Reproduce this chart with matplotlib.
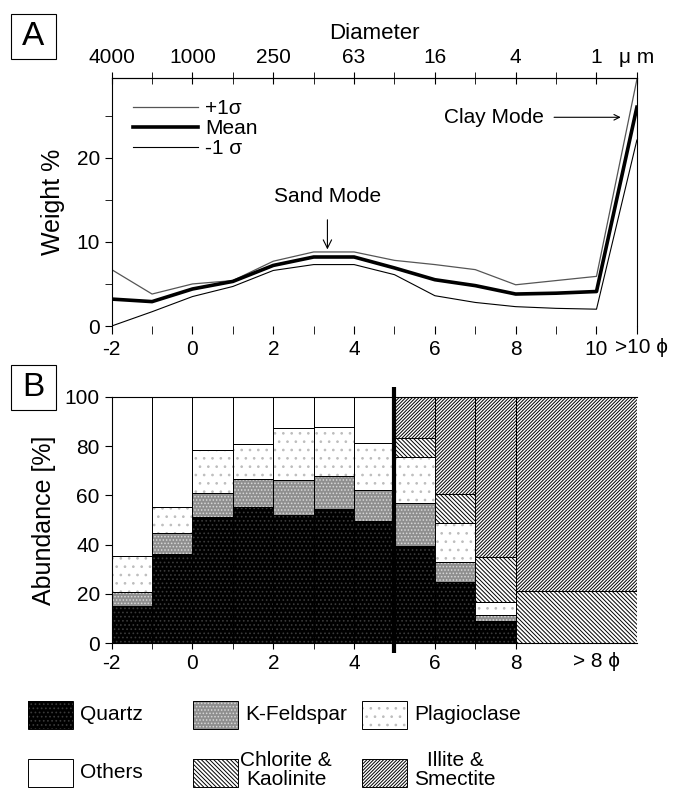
import matplotlib
matplotlib.use("Agg")
import matplotlib.pyplot as plt
from matplotlib.patches import Rectangle
import matplotlib.transforms as mtrans
import numpy as np

plt.rcParams['font.family'] = ['Liberation Sans', 'DejaVu Sans']
plt.rcParams['hatch.linewidth'] = 0.7

# ---- panel A data (grain size distribution, weight %) ----
phi = [-2, -1, 0, 1, 2, 3, 4, 5, 6, 7, 8, 9, 10, 11]
mean = [3.2, 2.9, 4.4, 5.3, 7.2, 8.2, 8.2, 6.9, 5.5, 4.8, 3.8, 3.9, 4.1, 26.0]
plus1 = [6.7, 3.8, 5.0, 5.4, 7.7, 8.8, 8.8, 7.8, 7.3, 6.7, 4.9, 5.4, 5.9, 29.3]
minus1 = [0.0, 1.7, 3.5, 4.7, 6.6, 7.3, 7.3, 6.1, 3.6, 2.8, 2.3, 2.1, 2.0, 22.1]
phi_labels = ['-2', '0', '2', '4', '6', '8', '10', '']
phi_label_pos = [-2, 0, 2, 4, 6, 8, 10, 11]
diam_labels = ['4000', '1000', '250', '63', '16', '4', '1', '\u03bc m']

# ---- panel B data (mineral abundance, %) ----
bin_left = [-2, -1, 0, 1, 2, 3, 4, 5, 6, 7, 8]
bin_width = [1, 1, 1, 1, 1, 1, 1, 1, 1, 1, 3]
quartz = [15.2, 36.3, 51.2, 55.4, 52.2, 54.4, 49.4, 39.3, 25.0, 9.1, 0]
kfeldspar = [5.4, 8.6, 9.7, 11.2, 14.2, 13.6, 12.9, 17.4, 7.9, 2.2, 0]
plagioclase = [14.6, 10.5, 17.6, 14.4, 20.7, 19.7, 18.9, 18.7, 15.8, 5.4, 0]
chlorite = [0, 0, 0, 0, 0, 0, 0, 8.0, 11.7, 18.1, 21.3]
illite = [0, 0, 0, 0, 0, 0, 0, 16.6, 39.6, 65.2, 78.7]
others = [64.8, 44.6, 21.5, 19.0, 12.9, 12.3, 18.8, 0, 0, 0, 0]

# name -> face, hatch colour, hatch
styles = {
    'Quartz': ('black', '#3a3a3a', '....'),
    'K-Feldspar': ('#8f8f8f', '#d8d8d8', '.....'),
    'Plagioclase': ('white', '#bdbdbd', '..'),
    'Others': ('white', 'white', ''),
    'Chlorite &\nKaolinite': ('white', 'black', '\\' * 8),
    'Illite &\nSmectite': ('white', 'black', '/' * 10),
}

fig = plt.figure(figsize=(6.83, 7.94), dpi=100)

# ================= panel A =================
axA = fig.add_axes([0.1635, 0.5894, 0.769, 0.3127])
axA.plot(phi, plus1, color='#555555', lw=0.9, label='+1\u03c3')
axA.plot(phi, mean, color='black', lw=2.6, label='Mean')
axA.plot(phi, minus1, color='black', lw=0.8, label='-1 \u03c3')
axA.set_xlim(-2, 11)
axA.set_ylim(0, 29.5)
axA.spines['bottom'].set_visible(False)
axA.set_xticks(phi_label_pos)
axA.set_xticklabels(phi_labels, fontsize=15)
axA.set_xticks([-1, 1, 3, 5, 7, 9], minor=True)
axA.tick_params(axis='x', which='both', direction='out', length=6, pad=4)
trA = mtrans.blended_transform_factory(axA.transData, axA.transAxes)
axA.text(10.47, -0.085, '>10 \u03d5', transform=trA, ha='left', va='center', fontsize=15)
axA.set_yticks([0, 10, 20])
axA.set_yticks([5, 15, 25], minor=True)
axA.tick_params(axis='y', which='both', direction='out', length=5, labelsize=15)
axA.set_ylabel('Weight %', fontsize=18, labelpad=8)

top = axA.secondary_xaxis('top')
top.set_xticks(phi_label_pos)
top.set_xticklabels(diam_labels, fontsize=15)
top.set_xticks([-1, 1, 3, 5, 7, 9], minor=True)
top.tick_params(axis='x', which='both', direction='inout', length=8, pad=4)
top.set_xlabel('Diameter', fontsize=16, labelpad=6)

axA.legend(loc='upper left', bbox_to_anchor=(0.025, 0.948), frameon=False,
           fontsize=15, handlelength=3.1, labelspacing=0.06, handletextpad=0.35,
           borderaxespad=0)
axA.annotate('Sand Mode', xy=(3.34, 9.1), xytext=(3.34, 15.4),
             ha='center', va='center', fontsize=15,
             arrowprops=dict(arrowstyle='->', color='black', lw=0.8,
                             shrinkA=8, shrinkB=0))
axA.text(7.45, 24.8, 'Clay Mode', ha='center', va='center', fontsize=15)
axA.annotate('', xy=(10.6, 24.8), xytext=(8.95, 24.8),
             arrowprops=dict(arrowstyle='->', color='black', lw=0.8,
                             shrinkA=0, shrinkB=0))

# ================= panel B =================
axB = fig.add_axes([0.1635, 0.1898, 0.769, 0.3106])
layers = [('Quartz', quartz), ('K-Feldspar', kfeldspar), ('Plagioclase', plagioclase),
          ('Chlorite &\nKaolinite', chlorite), ('Illite &\nSmectite', illite),
          ('Others', others)]
bottom = np.zeros(len(bin_left))
for name, vals in layers:
    face, hcol, hatch = styles[name]
    vals = np.array(vals, dtype=float)
    axB.bar(bin_left, vals, width=bin_width, bottom=bottom, align='edge',
            color=face, edgecolor=hcol, hatch=hatch, linewidth=0)
    axB.bar(bin_left, vals, width=bin_width, bottom=bottom, align='edge',
            fill=False, edgecolor='black', linewidth=0.7)
    bottom = bottom + vals

axB.set_xlim(-2, 11)
axB.set_ylim(0, 100)
axB.spines['right'].set_visible(False)
axB.set_yticks([0, 20, 40, 60, 80, 100])
axB.tick_params(axis='y', direction='out', length=5, labelsize=15)
axB.set_xticks([-2, 0, 2, 4, 6, 8])
axB.set_xticklabels(['-2', '0', '2', '4', '6', '8'], fontsize=15)
axB.set_xticks([-1, 1, 3, 5, 7], minor=True)
axB.tick_params(axis='x', which='both', direction='out', length=4, pad=4)
trB = mtrans.blended_transform_factory(axB.transData, axB.transAxes)
axB.text(10.0, -0.075, '> 8 \u03d5', transform=trB, ha='center', va='center', fontsize=15)
axB.set_ylabel('Abundance [%]', fontsize=18, labelpad=6)
axB.plot([5, 5], [-4, 104], color='black', lw=3, clip_on=False, solid_capstyle='butt')

# panel letters
for letter, y0 in [('A', 794 - 59), ('B', 794 - 410)]:
    fig.patches.append(Rectangle((11 / 683, y0 / 794), 45 / 683, 45 / 794,
                                 transform=fig.transFigure, fill=False,
                                 edgecolor='black', lw=0.8))
    fig.text(33.5 / 683, (y0 + 22.5) / 794, letter, fontsize=24,
             ha='center', va='center')

# legend of minerals
leg_items = [('Quartz', 28, 715), ('K-Feldspar', 193, 715), ('Plagioclase', 362, 715),
             ('Others', 28, 773), ('Chlorite &\nKaolinite', 193, 773),
             ('Illite &\nSmectite', 362, 773)]
for name, px, py in leg_items:
    face, hcol, hatch = styles[name]
    fig.patches.append(Rectangle((px / 683, (794 - py - 14) / 794), 45 / 683, 28 / 794,
                                 transform=fig.transFigure, facecolor=face,
                                 edgecolor=hcol, hatch=hatch, lw=0))
    fig.patches.append(Rectangle((px / 683, (794 - py - 14) / 794), 45 / 683, 28 / 794,
                                 transform=fig.transFigure, fill=False,
                                 edgecolor='black', lw=0.7))
    if '\n' in name:
        fig.text((px + 93) / 683, (794 - py + 3) / 794, name, fontsize=15,
                 ha='center', va='center', multialignment='center', linespacing=1.0)
    else:
        fig.text((px + 52) / 683, (794 - py) / 794, name, fontsize=15,
                 ha='left', va='center')

fig.savefig('out.png', dpi=100)
